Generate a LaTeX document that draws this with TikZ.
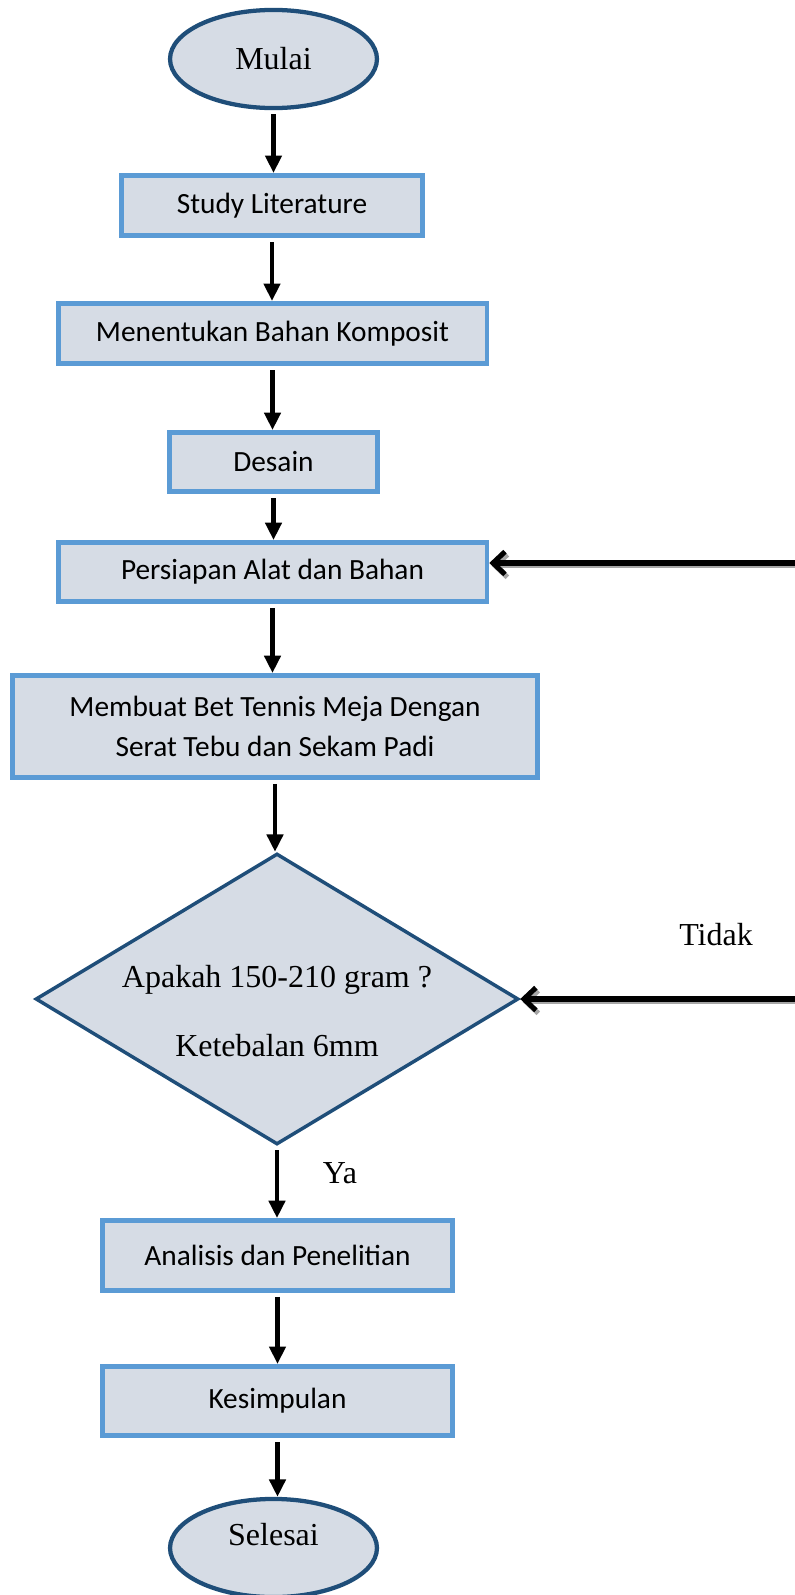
\documentclass[tikz,border=0pt]{standalone}
\usepackage{fontspec}
\setmainfont{Liberation Serif}
\newfontfamily\boxfont{Carlito}
\usetikzlibrary{shapes.geometric,arrows.meta}
\definecolor{boxfill}{HTML}{D6DCE5}
\definecolor{boxline}{HTML}{5B9BD5}
\definecolor{termline}{HTML}{1F4E79}
\definecolor{shadowgray}{HTML}{A6A6A6}
\begin{document}
\begin{tikzpicture}[x=0.375pt,y=-0.375pt,
        process/.style={rectangle,draw=boxline,fill=boxfill,line width=1.8pt,inner sep=0pt,
            align=center,font=\boxfont\fontsize{11}{15}\selectfont},
        terminal/.style={ellipse,draw=termline,fill=boxfill,line width=1.6pt,inner sep=0pt,
            minimum width=77.6pt,minimum height=36.8pt,font=\fontsize{12}{14}\selectfont},
        decision/.style={diamond,draw=termline,fill=boxfill,line width=1.3pt,inner ysep=0pt,inner xsep=-12pt,
            aspect=1.66,align=center,font=\fontsize{12}{14}\selectfont},
        flow/.style={-{Triangle[length=6.5pt,width=6pt]},line width=1.6pt,shorten <=1.5pt},
        back/.style={-{Straight Barb[length=4.5pt,width=8.5pt]},line width=1.9pt,line cap=round}]
            \useasboundingbox (0,0) rectangle (795,1595);
            \node[terminal] (mulai) at (273.5,59) {Mulai};
            \node[process,minimum width=113pt,minimum height=22.6pt] (study) at (272,205.5) {Study Literature};
            \node[process,minimum width=160.8pt,minimum height=22.6pt] (komposit) at (272.5,333.5) {Menentukan Bahan Komposit};
            \node[process,minimum width=77.8pt,minimum height=22.2pt] (desain) at (273.5,462) {Desain};
            \node[process,minimum width=160.8pt,minimum height=22.2pt] (persiapan) at (272.5,572) {Persiapan Alat dan Bahan};
            \node[process,minimum width=196.6pt,minimum height=38.3pt] (membuat) at (275,726.5)
                {Membuat Bet Tennis Meja Dengan\\Serat Tebu dan Sekam Padi};
            \node[decision,minimum width=181.1pt,minimum height=109.1pt,text height=43.4pt] (cek) at (277,999)
                {Apakah 150-210 gram ?\\[12pt]Ketebalan 6mm};
            \node[process,minimum width=131.3pt,minimum height=26.3pt] (analisis) at (277.5,1255.5) {Analisis dan Penelitian};
            \node[process,minimum width=131.3pt,minimum height=26pt] (kesimpulan) at (277.5,1401) {Kesimpulan};
            \node[terminal,text depth=10.5pt] (selesai) at (273.5,1548) {Selesai};
            \foreach \a/\b in {mulai/study,study/komposit,komposit/desain,desain/persiapan,
                persiapan/membuat,membuat/cek,cek/analisis,analisis/kesimpulan,kesimpulan/selesai}
                \draw[flow] (\a.south) -- (\a.south |- \b.north);
            \coordinate (ulang1) at (795,563);
            \coordinate (ulang2) at (795,999);
            \draw[back,shadowgray,transform canvas={shift={(0.9pt,-1.1pt)}}] (ulang1) -- (ulang1 -| persiapan.east);
            \draw[back] (ulang1) -- (ulang1 -| persiapan.east);
            \draw[back,shadowgray,transform canvas={shift={(0.9pt,-1.1pt)}}] (ulang2) -- (cek.east);
            \draw[back] (ulang2) -- (cek.east);
            \node[font=\fontsize{12}{14}\selectfont] (tidak) at (716,935) {Tidak};
            \node[font=\fontsize{12}{14}\selectfont] (ya) at (340,1173) {Ya};
        \end{tikzpicture}
\end{document}
